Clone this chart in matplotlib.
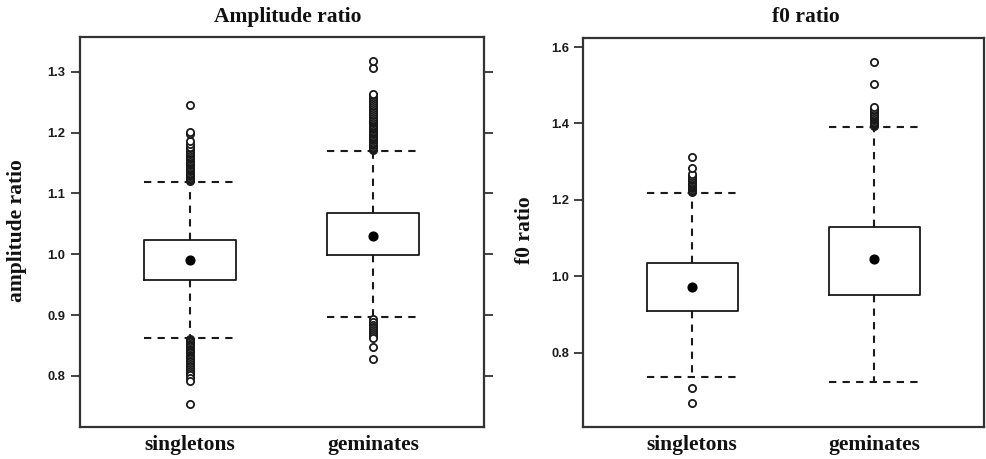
import matplotlib
matplotlib.use("Agg")
import matplotlib.pyplot as plt

# ---------------- data ----------------
groups = ["singletons", "geminates"]

# Amplitude ratio panel
amp_q1 = [0.958, 0.998]
amp_q3 = [1.024, 1.068]
amp_med = [0.991, 1.030]
amp_wlo = [0.862, 0.896]
amp_whi = [1.118, 1.170]
amp_out_sing = [1.120, 1.122, 1.124, 1.126, 1.128, 1.130, 1.132, 1.134, 1.136,
                1.138, 1.140, 1.142, 1.144, 1.146, 1.148, 1.150, 1.152, 1.154,
                1.156, 1.158, 1.160, 1.162, 1.164, 1.166, 1.168, 1.171, 1.174,
                1.177, 1.181, 1.186, 1.197, 1.201, 1.246,
                0.861, 0.859, 0.857, 0.855, 0.853, 0.851, 0.849, 0.847, 0.845,
                0.843, 0.841, 0.839, 0.837, 0.835, 0.833, 0.831, 0.829, 0.827,
                0.825, 0.823, 0.820, 0.817, 0.814, 0.811, 0.808, 0.805, 0.801,
                0.797, 0.792, 0.753]
amp_out_gem = [1.171, 1.173, 1.175, 1.177, 1.179, 1.181, 1.183, 1.185, 1.187,
               1.189, 1.191, 1.193, 1.195, 1.197, 1.199, 1.201, 1.203, 1.205,
               1.207, 1.209, 1.211, 1.213, 1.215, 1.217, 1.219, 1.221, 1.223,
               1.225, 1.228, 1.231, 1.234, 1.237, 1.240, 1.243, 1.246, 1.249,
               1.252, 1.255, 1.258, 1.261, 1.264, 1.306, 1.318,
               0.894, 0.888, 0.884, 0.881, 0.878, 0.875, 0.872, 0.869, 0.866,
               0.863, 0.848, 0.827]
amp_ticks = [0.8, 0.9, 1.0, 1.1, 1.2, 1.3]
amp_ylim = (0.716, 1.357)

# f0 ratio panel
f0_q1 = [0.909, 0.950]
f0_q3 = [1.035, 1.129]
f0_med = [0.972, 1.044]
f0_wlo = [0.735, 0.722]
f0_whi = [1.219, 1.390]
f0_out_sing = [1.221, 1.224, 1.227, 1.230, 1.233, 1.236, 1.239, 1.242, 1.245,
               1.248, 1.251, 1.254, 1.258, 1.262, 1.267, 1.284, 1.312,
               0.707, 0.667]
f0_out_gem = [1.393, 1.396, 1.399, 1.402, 1.405, 1.408, 1.411, 1.414, 1.417,
              1.420, 1.423, 1.426, 1.430, 1.434, 1.438, 1.443, 1.503, 1.561]
f0_ticks = [0.8, 1.0, 1.2, 1.4, 1.6]
f0_ylim = (0.606, 1.623)

titles = ["Amplitude ratio", "f0 ratio"]
ylabels = ["amplitude ratio", "f0 ratio"]

# ---------------- drawing ----------------
W, H = 986, 459
fig = plt.figure(figsize=(W / 100, H / 100), dpi=100)
fig.patch.set_facecolor("white")

serif = ["Liberation Serif", "DejaVu Serif"]
sans = ["Liberation Sans", "DejaVu Sans"]
ink = "#1a1a1a"


def panel(rect, q1, q3, med, wlo, whi, outs, ticks, ylim, right_ticks):
    ax = fig.add_axes(rect)
    stats = []
    for i in range(len(groups)):
        stats.append(dict(q1=q1[i], q3=q3[i], med=med[i], whislo=wlo[i],
                          whishi=whi[i], fliers=outs[i], label=groups[i]))
    ax.bxp(stats, positions=[1, 2], widths=0.5, capwidths=0.5,
           showfliers=True,
           boxprops=dict(color=ink, linewidth=1.3),
           whiskerprops=dict(color=ink, linewidth=1.5, linestyle=(0, (3.5, 3))),
           capprops=dict(color=ink, linewidth=1.5, linestyle=(0, (3.5, 3))),
           medianprops=dict(linewidth=0),
           flierprops=dict(marker="o", markersize=5.2, markerfacecolor="white",
                           markeredgecolor=ink, markeredgewidth=1.3,
                           linestyle="none"),
           zorder=2)
    ax.plot([1, 2], med, linestyle="none", marker="o", markersize=6.3,
            color="black", zorder=4)
    ax.set_xlim(0.4, 2.6)
    ax.set_ylim(*ylim)
    ax.set_yticks(ticks)
    ax.set_yticklabels([f"{t:.1f}" for t in ticks], fontfamily=sans,
                       fontweight="bold", fontsize=9.3, color="#1a1a1a")
    ax.tick_params(axis="y", direction="out", length=6.5, width=1.2,
                   color="#222222", pad=3.5, right=right_ticks)
    ax.set_xticks([1, 2])
    ax.set_xticklabels(groups, fontfamily=serif, fontweight="bold",
                       fontsize=15.5, color="#111111")
    ax.tick_params(axis="x", length=0, pad=6)
    for s in ax.spines.values():
        s.set_linewidth(1.6)
        s.set_color("#333333")
    return ax


ax1 = panel([79.5 / W, 32 / H, 404 / W, 390 / H],
            amp_q1, amp_q3, amp_med, amp_wlo, amp_whi,
            [amp_out_sing, amp_out_gem], amp_ticks, amp_ylim, True)
ax2 = panel([583 / W, 32.3 / H, 400.5 / W, 388.4 / H],
            f0_q1, f0_q3, f0_med, f0_wlo, f0_whi,
            [f0_out_sing, f0_out_gem], f0_ticks, f0_ylim, False)

# titles and axis labels
fig.text(288 / W, 1 - 17 / H, titles[0], ha="center", va="center",
         fontfamily=serif, fontweight="bold", fontsize=15.5, color="#111111")
fig.text(806 / W, 1 - 17 / H, titles[1], ha="center", va="center",
         fontfamily=serif, fontweight="bold", fontsize=15.5, color="#111111")
fig.text(17.5 / W, 1 - 231 / H, ylabels[0], ha="center", va="center",
         rotation=90, fontfamily=serif, fontweight="bold", fontsize=15.5,
         color="#111111")
fig.text(525 / W, 1 - 230 / H, ylabels[1], ha="center", va="center",
         rotation=90, fontfamily=serif, fontweight="bold", fontsize=15.5,
         color="#111111")

fig.savefig("out.png", dpi=100, facecolor="white")
